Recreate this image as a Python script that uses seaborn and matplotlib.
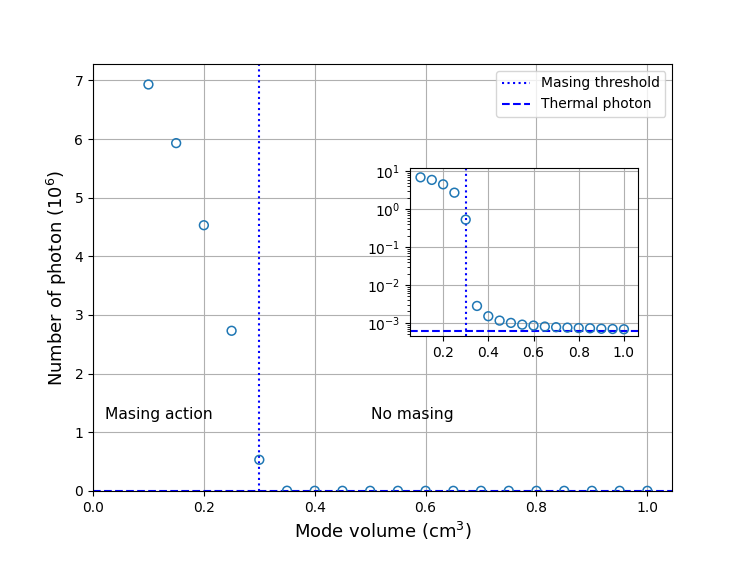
import matplotlib
matplotlib.use("Agg")
import matplotlib.pyplot as plt
import seaborn as sns
import numpy as np
import pandas as pd

# data (photon number in units of 10^6)
mode_volume = [0.10, 0.15, 0.20, 0.25, 0.30, 0.35, 0.40, 0.45, 0.50, 0.55,
               0.60, 0.65, 0.70, 0.75, 0.80, 0.85, 0.90, 0.95, 1.00]
photons = [6.93, 5.93, 4.53, 2.73, 0.53, 0.0028, 0.0015, 0.00115, 0.0010,
           0.00090, 0.00085, 0.00080, 0.00077, 0.00075, 0.00073, 0.00072,
           0.00070, 0.00069, 0.00068]
threshold = 0.3
thermal = 0.00062

df = pd.DataFrame({"v": mode_volume, "n": photons})
blue = "#1f77b4"

fig = plt.figure(figsize=(7.47, 5.61), dpi=100)
ax = fig.add_axes([0.1245, 0.125, 0.7755, 0.761])

sns.scatterplot(data=df, x="v", y="n", ax=ax, marker="o", s=40,
                facecolors="none", edgecolor=blue, linewidth=1.1, zorder=3)
ax.axvline(threshold, color="blue", linestyle=":", linewidth=1.5,
           label="Masing threshold")
ax.axhline(thermal, color="blue", linestyle="--", linewidth=1.5,
           label="Thermal photon")
ax.set_xlim(0, 1.045)
ax.set_ylim(0, 7.28)
ax.grid(True)
ax.set_xlabel("Mode volume (cm$^3$)", fontsize=13)
ax.set_ylabel("Number of photon (10$^6$)", fontsize=13)
ax.text(0.022, 1.3, "Masing action", fontsize=11.2, va="center")
ax.text(0.502, 1.3, "No masing", fontsize=11.2, va="center")
ax.legend(loc="upper right")

# inset with log scale
axin = fig.add_axes([0.549, 0.401, 0.305, 0.299])
sns.scatterplot(data=df, x="v", y="n", ax=axin, marker="o", s=40,
                facecolors="none", edgecolor=blue, linewidth=1.1, zorder=3)
axin.axvline(threshold, color="blue", linestyle=":", linewidth=1.5)
axin.axhline(thermal, color="blue", linestyle="--", linewidth=1.5)
axin.set_yscale("log")
axin.set_xlim(0.054, 1.062)
axin.set_ylim(4.5e-4, 12)
axin.set_xticks([0.2, 0.4, 0.6, 0.8, 1.0])
axin.grid(True)
axin.set_xlabel("")
axin.set_ylabel("")

fig.savefig("out.png", dpi=100)
